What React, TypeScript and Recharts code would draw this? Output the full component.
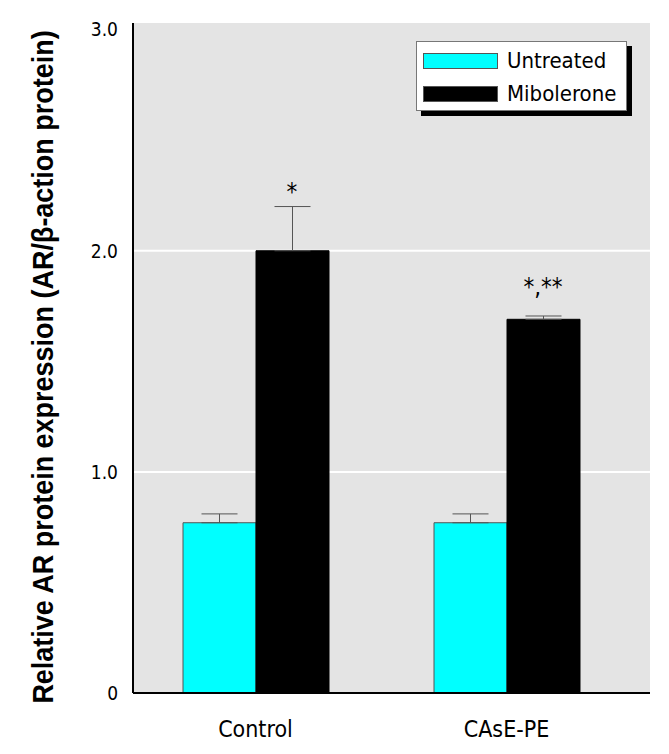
import React from "react";
import { ComposedChart, Bar, XAxis, YAxis, CartesianGrid, ErrorBar, Legend, Scatter, Label } from "recharts";

const categories = ["Control", "CAsE-PE"];
const seriesNames = ["Untreated", "Mibolerone"];
const untreated = [0.77, 0.77];
const untreatedErr = [0.04, 0.04];
const mibolerone = [2.0, 1.69];
const mibErr = [0.2, 0.015];
const stars = ["*", "*,**"];
const starHeights = [2.275, 1.845];
const yTicks = [0, 1, 2, 3];

const data = categories.map((c, i) => ({
  name: c,
  untreated: untreated[i],
  untreatedErr: [0, untreatedErr[i]],
  mibolerone: mibolerone[i],
  mibErr: [0, mibErr[i]],
  star: stars[i],
  starY: starHeights[i],
}));

const narrow = "'DejaVu Sans Condensed', 'DejaVu Sans', sans-serif";

// asterisks sit over the Mibolerone (second) bar of each group
const StarMark = (props: any) => {
  const { cx, cy, payload } = props;
  return (
    <text x={cx + 36.5} y={cy + 10} textAnchor="middle" fontSize={24} fontFamily={narrow} fill="#000">
      {payload.star}
    </text>
  );
};

const LegendBox = ({ payload }: any) => {
  const items = (payload || [])
    .filter((p: any) => seriesNames.includes(p.value))
    .sort((a: any, b: any) => seriesNames.indexOf(a.value) - seriesNames.indexOf(b.value));
  return (
    <div
      style={{
        width: 209,
        height: 58,
        border: "1px solid #777",
        background: "#fff",
        boxShadow: "5px 5px 0 #000",
        fontFamily: narrow,
        fontSize: 22,
        paddingTop: 10,
        boxSizing: "content-box",
      }}
    >
      {items.map((p: any, i: number) => (
        <div key={i} style={{ display: "flex", alignItems: "center", height: 17, marginBottom: 16, marginLeft: 6 }}>
          <span style={{ width: 75, height: 16, background: p.color, border: "1px solid #555", boxSizing: "border-box", marginRight: 9 }} />
          <span style={{ lineHeight: "17px" }}>{p.value}</span>
        </div>
      ))}
    </div>
  );
};

// bold condensed title: Liberation Sans Bold squeezed a little horizontally
const renderTitle = () => (
  <text
    x={0}
    y={0}
    transform="translate(53, 367) rotate(-90) scale(0.93, 1)"
    textAnchor="middle"
    fontFamily="'Liberation Sans', Arial, sans-serif"
    fontWeight="bold"
    fontSize={29}
    fill="#000"
  >
    Relative AR protein expression (AR/β-action protein)
  </text>
);

export default function App() {
  return (
    <div>
      <style>{`body{margin:0}`}</style>
      <ComposedChart
        width={669}
        height={754}
        data={data}
        margin={{ top: 23, right: 19, left: 73, bottom: 0 }}
        barGap={0}
      >
        <CartesianGrid
          fill="#e4e4e4"
          fillOpacity={1}
          vertical={false}
          stroke="#fff"
          strokeWidth={2}
          horizontalValues={[1, 2]}
        />
        <XAxis
          dataKey="name"
          height={61}
          padding={{ left: -3, right: 18 }}
          axisLine={{ stroke: "#000", strokeWidth: 2 }}
          tickLine={false}
          tickMargin={22}
          tick={{ fill: "#000", fontSize: 23, fontFamily: narrow }}
        />
        <YAxis
          width={60}
          domain={[0, 3.03]}
          ticks={yTicks}
          allowDataOverflow
          axisLine={{ stroke: "#000", strokeWidth: 2 }}
          tickLine={false}
          tickMargin={9}
          tickFormatter={(v: number) => (v === 0 ? "0" : v.toFixed(1))}
          tick={{ fill: "#000", fontSize: 19, fontFamily: narrow }}
        >
          <Label content={renderTitle} />
        </YAxis>
        <Legend
          verticalAlign="middle"
          align="center"
          content={<LegendBox />}
          wrapperStyle={{ position: "absolute", left: 416, top: 41, width: 211 }}
        />
        <Bar dataKey="untreated" name="Untreated" fill="#00ffff" stroke="#555" strokeWidth={1} barSize={73} isAnimationActive={false}>
          <ErrorBar dataKey="untreatedErr" width={18} stroke="#555" strokeWidth={1} />
        </Bar>
        <Bar dataKey="mibolerone" name="Mibolerone" fill="#000" stroke="#000" strokeWidth={1} barSize={73} isAnimationActive={false}>
          <ErrorBar dataKey="mibErr" width={18} stroke="#555" strokeWidth={1} />
        </Bar>
        <Scatter dataKey="starY" legendType="none" shape={StarMark} isAnimationActive={false} />
      </ComposedChart>
    </div>
  );
}
